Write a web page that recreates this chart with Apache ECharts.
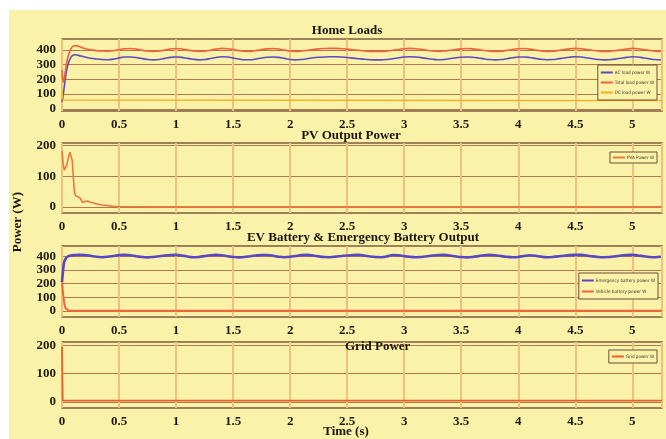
<!DOCTYPE html>
<html>
<head>
<meta charset="utf-8">
<script src="https://cdn.jsdelivr.net/npm/echarts@6/dist/echarts.min.js"></script>
<style>
  html, body { margin: 0; padding: 0; background: #ffffff; }
  #chart { width: 666px; height: 439px; }
</style>
</head>
<body>
<div id="chart"></div>
<script>
// Simulation time (s) for the load and battery traces
const simTime = [0, 0.01, 0.02, 0.04, 0.06, 0.08, 0.1, 0.12,
  0.15, 0.2, 0.25, 0.3, 0.35, 0.4, 0.45, 0.5, 0.55, 0.6, 0.65, 0.7, 0.75, 0.8, 0.85, 0.9, 0.95,
  1.0, 1.05, 1.1, 1.15, 1.2, 1.25, 1.3, 1.35, 1.4, 1.45, 1.5, 1.55, 1.6, 1.65, 1.7, 1.75, 1.8, 1.85, 1.9, 1.95,
  2.0, 2.05, 2.1, 2.15, 2.2, 2.25, 2.3, 2.35, 2.4, 2.45, 2.5, 2.55, 2.6, 2.65, 2.7, 2.75, 2.8, 2.85, 2.9, 2.95,
  3.0, 3.05, 3.1, 3.15, 3.2, 3.25, 3.3, 3.35, 3.4, 3.45, 3.5, 3.55, 3.6, 3.65, 3.7, 3.75, 3.8, 3.85, 3.9, 3.95,
  4.0, 4.05, 4.1, 4.15, 4.2, 4.25, 4.3, 4.35, 4.4, 4.45, 4.5, 4.55, 4.6, 4.65, 4.7, 4.75, 4.8, 4.85, 4.9, 4.95,
  5.0, 5.05, 5.1, 5.15, 5.2, 5.25];

// Home loads (W)
const acLoad = [48, 90, 150, 260, 320, 352, 366, 368,
  362, 352, 344, 339, 335, 334, 338, 346, 352, 353, 349, 342, 336, 333, 336, 343, 350,
  353, 350, 343, 337, 333, 335, 342, 349, 354, 352, 346, 339, 334, 334, 339, 346, 351, 353, 350, 343,
  336, 333, 336, 341, 347, 351, 353, 354, 354, 352, 349, 345, 341, 337, 334, 333, 333, 336, 341, 347,
  352, 354, 352, 348, 342, 337, 334, 336, 341, 347, 351, 353, 351, 346, 340, 335, 333, 335, 341, 347,
  352, 353, 349, 343, 337, 334, 335, 340, 346, 351, 354, 352, 347, 341, 336, 333, 334, 338, 344, 350,
  354, 352, 346, 340, 335, 333];
const totalLoad = [265, 180, 210, 310, 375, 410, 428, 430,
  424, 410, 401, 396, 393, 392, 395, 403, 409, 410, 406, 399, 393, 391, 393, 400, 407,
  410, 407, 400, 394, 391, 392, 399, 406, 411, 409, 403, 396, 392, 391, 396, 403, 408, 410, 407, 400,
  393, 390, 393, 398, 404, 408, 410, 411, 411, 409, 406, 402, 398, 394, 391, 390, 390, 393, 398, 404,
  409, 411, 409, 405, 399, 394, 391, 393, 398, 404, 408, 410, 408, 403, 397, 392, 390, 392, 398, 404,
  409, 410, 406, 400, 394, 391, 392, 397, 403, 408, 411, 409, 404, 398, 393, 390, 391, 395, 401, 407,
  411, 409, 403, 397, 392, 390];
const dcTime = [0, 0.01, 0.02, 5.26];
const dcLoad = [120, 60, 55, 55];

// PV array output (W)
const pvTime = [0, 0.01, 0.02, 0.03, 0.04, 0.05, 0.06, 0.07, 0.08, 0.09, 0.1, 0.11, 0.12, 0.14, 0.16,
  0.17, 0.18, 0.19, 0.2, 0.22, 0.25, 0.3, 0.35, 0.4, 0.45, 0.5, 0.6, 0.8, 5.26];
const pvPower = [182, 140, 120, 124, 134, 150, 166, 178, 176, 150, 92, 46, 36, 33, 28,
  24, 15, 12, 17, 19, 15, 10, 6, 4, 2, 1, 0.5, 0, 0];

// Battery outputs (W)
const emergencyBattery = [210, 300, 360, 392, 402, 406, 408, 409,
  410, 409, 403, 396, 393, 396, 402, 408, 410, 407, 400, 395, 392, 395, 400, 405, 409,
  410, 405, 398, 393, 395, 401, 407, 410, 407, 400, 395, 392, 394, 400, 405, 409, 409, 404, 396, 393,
  396, 402, 408, 410, 406, 399, 394, 393, 397, 402, 406, 409, 410, 405, 398, 394, 393, 399, 409, 407,
  401, 396, 393, 394, 400, 406, 409, 410, 405, 399, 394, 392, 395, 401, 407, 410, 407, 401, 396, 393,
  395, 402, 407, 404, 397, 393, 395, 399, 404, 408, 410, 410, 405, 399, 395, 393, 394, 399, 405, 409,
  410, 406, 400, 395, 393, 396];
const vehicleTime = [0, 0.01, 0.02, 0.03, 0.04, 0.06, 5.26];
const vehicleBattery = [210, 120, 55, 20, 6, 1, 0];

// Grid exchange (W)
const gridTime = [0, 0.003, 0.006, 5.26];
const gridPower = [195, 195, 5, 5];

// Axis ticks
const timeTicks = { min: 0, max: 5.26, step: 0.5 };
const loadTicks = [0, 100, 200, 300, 400];
const pvTicks = [0, 100, 200];
const batteryTicks = [0, 100, 200, 300, 400];
const gridTicks = [0, 100, 200];

const pairs = (xs, ys) => xs.map((x, i) => [x, ys[i]]);

const panelBg = '#fbf2a9';
const serif = '"Liberation Serif", "DejaVu Serif", serif';
const labelStyle = { fontFamily: serif, fontWeight: 'bold', fontSize: 13, color: '#1e1a14' };

const panels = [
  { top: 39, height: 72, min: -15, max: 475, ticks: loadTicks },
  { top: 143, height: 70, min: -20, max: 208, ticks: pvTicks },
  { top: 246, height: 71, min: -45, max: 475, ticks: batteryTicks },
  { top: 342, height: 66, min: -21, max: 212, ticks: gridTicks }
];

const grid = panels.map(p => ({
  left: 62, width: 600, top: p.top, height: p.height,
  show: true, backgroundColor: panelBg, borderColor: '#7d5c3e', borderWidth: 1.5,
  containLabel: false
}));

const xAxis = panels.map((p, i) => ({
  type: 'value', gridIndex: i,
  min: timeTicks.min, max: timeTicks.max, interval: timeTicks.step,
  axisLine: { show: false }, axisTick: { show: false },
  splitLine: { show: true, lineStyle: { color: '#f0c07e', width: 2 } },
  axisLabel: Object.assign({ margin: 7, showMaxLabel: false }, labelStyle)
}));

const yAxis = panels.map((p, i) => ({
  type: 'value', gridIndex: i, min: p.min, max: p.max,
  axisLine: { show: false },
  axisTick: { show: false, customValues: p.ticks },
  splitLine: { show: true, lineStyle: { color: '#b0784e', width: 1 } },
  axisLabel: Object.assign({ margin: 6, customValues: p.ticks }, labelStyle)
}));

const line = (name, idx, data, color, width, smooth) => ({
  name, type: 'line', xAxisIndex: idx, yAxisIndex: idx,
  data, showSymbol: false, symbol: 'none', smooth: smooth ? 0.3 : false,
  lineStyle: { color, width }, itemStyle: { color },
  z: 3
});

const series = [
  line('AC load power W', 0, pairs(simTime, acLoad), '#5b4cc4', 1.6, true),
  line('Total load power W', 0, pairs(simTime, totalLoad), '#f2603c', 1.6, true),
  line('DC load power W', 0, pairs(dcTime, dcLoad), '#f6ae1e', 1.3, false),
  line('PVA Power W', 1, pairs(pvTime, pvPower), '#ea7a3c', 1.6, false),
  line('Emergency battery power W', 2, pairs(simTime, emergencyBattery), '#5a48c2', 2.6, true),
  line('Vehicle battery power W', 2, pairs(vehicleTime, vehicleBattery), '#f3643c', 2, false),
  line('Grid power W', 3, pairs(gridTime, gridPower), '#e4622e', 1.8, false)
];

const legendBase = {
  orient: 'vertical', backgroundColor: panelBg, borderColor: '#6b4f3a', borderWidth: 1,
  borderRadius: 0, icon: 'rect', itemWidth: 12, itemHeight: 2, itemGap: 5,
  textStyle: {
    fontFamily: '"Liberation Sans Narrow", "DejaVu Sans Condensed", "Liberation Sans", sans-serif',
    fontSize: 4.6, color: '#3a3028', padding: [0, 0, 0, -3]
  },
  selectedMode: false
};

const legend = [
  Object.assign({}, legendBase, { right: 9, top: 65, padding: [5, 3, 5, 3], data: ['AC load power W', 'Total load power W', 'DC load power W'] }),
  Object.assign({}, legendBase, { right: 9, top: 152, padding: [3, 3, 3, 3], data: ['PVA Power W'] }),
  Object.assign({}, legendBase, { right: 8, top: 273, padding: [5, 3, 5, 3], itemGap: 6, data: ['Emergency battery power W', 'Vehicle battery power W'] }),
  Object.assign({}, legendBase, { right: 9, top: 350, padding: [4, 3, 4, 3], data: ['Grid power W'] })
];

const titleStyle = { fontFamily: serif, fontWeight: 'bold', fontSize: 13, color: '#1a1510' };
const title = [
  { text: 'Home Loads', left: 347, top: 24, textAlign: 'center', textStyle: titleStyle, padding: 0 },
  { text: 'PV Output Power', left: 351, top: 129, textAlign: 'center', textStyle: titleStyle, padding: 0 },
  { text: 'EV Battery & Emergency Battery Output', left: 363, top: 231, textAlign: 'center', textStyle: titleStyle, padding: 0 },
  { text: 'Grid Power', left: 345, top: 340, textStyle: titleStyle, padding: 0 },
  { text: 'Time (s)', left: 346, top: 425, textAlign: 'center', textStyle: titleStyle, padding: 0 }
];

const chart = echarts.init(document.getElementById('chart'), null, { renderer: 'canvas' });
chart.setOption({
  animation: false,
  backgroundColor: '#ffffff',
  graphic: [
    { type: 'rect', left: 9, top: 10, shape: { width: 657, height: 429 }, style: { fill: panelBg }, z: -10, silent: true },
    { type: 'text', left: 11, top: 192, rotation: Math.PI / 2, z: 10,
      style: { text: 'Power (W)', font: 'bold 13px ' + serif, fill: '#1a1510' } }
  ],
  title, legend, grid, xAxis, yAxis, series
});
</script>
</body>
</html>
